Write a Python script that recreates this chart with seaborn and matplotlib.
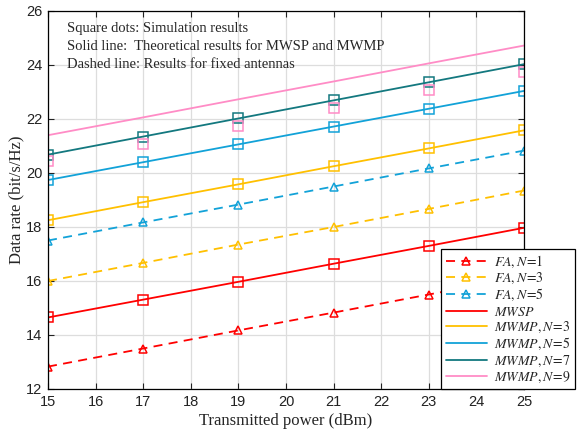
import numpy as np
import pandas as pd
import matplotlib
matplotlib.use('Agg')
import matplotlib.pyplot as plt
import seaborn as sns

power = [15, 17, 19, 21, 23, 25]

fa_n1 = [12.83, 13.50, 14.17, 14.83, 15.50, 16.17]
fa_n3 = [16.00, 16.67, 17.35, 18.00, 18.67, 19.35]
fa_n5 = [17.50, 18.17, 18.83, 19.50, 20.17, 20.83]

mwsp = [14.65, 15.31, 15.97, 16.64, 17.30, 17.97]
mwmp_n3 = [18.25, 18.92, 19.58, 20.25, 20.91, 21.58]
mwmp_n5 = [19.74, 20.40, 21.06, 21.72, 22.38, 23.04]
mwmp_n7 = [20.68, 21.35, 22.02, 22.69, 23.36, 24.03]
mwmp_n9 = [21.40, 22.06, 22.73, 23.39, 24.06, 24.72]

# simulation squares
sim_mwsp = mwsp
sim_n3 = mwmp_n3
sim_n5 = mwmp_n5
sim_n7 = mwmp_n7
sim_n9 = [20.45, 21.08, 21.75, 22.42, 23.08, 23.73]

red = '#FF0000'
yellow = '#FFC000'
blue = '#12A2D8'
teal = '#13787F'
pink = '#FF8CC6'

sns.set_style('whitegrid')
plt.rcParams['font.family'] = ['Liberation Sans', 'DejaVu Sans']
plt.rcParams['mathtext.fontset'] = 'stix'

fig = plt.figure(figsize=(5.85, 4.34), dpi=100)
ax = fig.add_axes([48/585, 45/434, 476/585, 378/434])

dashed = [(r'$FA,N\!=\!1$', fa_n1, red),
          (r'$FA,N\!=\!3$', fa_n3, yellow),
          (r'$FA,N\!=\!5$', fa_n5, blue)]
for lab, vals, c in dashed:
    sns.lineplot(x=power, y=vals, ax=ax, color=c, linestyle=(0, (5, 3.5)), lw=1.3,
                 marker='^', markersize=6, markerfacecolor='none',
                 markeredgecolor=c, markeredgewidth=1.1, label=lab)

solid = [(r'$MWSP$', mwsp, sim_mwsp, red),
         (r'$MWMP,N\!=\!3$', mwmp_n3, sim_n3, yellow),
         (r'$MWMP,N\!=\!5$', mwmp_n5, sim_n5, blue),
         (r'$MWMP,N\!=\!7$', mwmp_n7, sim_n7, teal),
         (r'$MWMP,N\!=\!9$', mwmp_n9, sim_n9, pink)]
for lab, vals, sim, c in solid:
    sns.lineplot(x=power, y=vals, ax=ax, color=c, lw=1.3, label=lab)
    ax.plot(power, sim, linestyle='none', marker='s', markersize=6.5,
            markerfacecolor='none', markeredgecolor=c, markeredgewidth=1.1)

ax.set_xlim(15, 25)
ax.set_ylim(12, 26)
ax.set_xticks(range(15, 26))
ax.set_yticks(range(12, 27, 2))
ax.grid(True, color='#DDDDDD', lw=0.9)
for s in ax.spines.values():
    s.set_color('black')
    s.set_linewidth(0.9)
ax.tick_params(direction='in', length=4, width=0.8, top=True, right=True,
               bottom=True, left=True, labelsize=10.5, colors='#222222', pad=4)

ax.set_xlabel('Transmitted power (dBm)', family='Liberation Serif', fontsize=12, labelpad=3)
ax.set_ylabel('Data rate (bit/s/Hz)', family='Liberation Serif', fontsize=12, labelpad=1)

notes = ['Square dots: Simulation results',
         'Solid line:  Theoretical results for MWSP and MWMP',
         'Dashed line: Results for fixed antennas']
for i, t in enumerate(notes):
    ax.text(0.04, 0.955 - i * 0.048, t, transform=ax.transAxes, family='Liberation Serif',
            fontsize=10.5, va='center', ha='left')

leg = ax.legend(loc='lower right', bbox_to_anchor=(575/585, 45/434),
                bbox_transform=fig.transFigure, fontsize=10, frameon=True,
                fancybox=False, edgecolor='black', framealpha=1,
                handlelength=3.0, labelspacing=0.08, borderpad=0.3,
                handletextpad=0.5, borderaxespad=0)
leg.get_frame().set_linewidth(0.9)

fig.savefig('out.png', dpi=100)
